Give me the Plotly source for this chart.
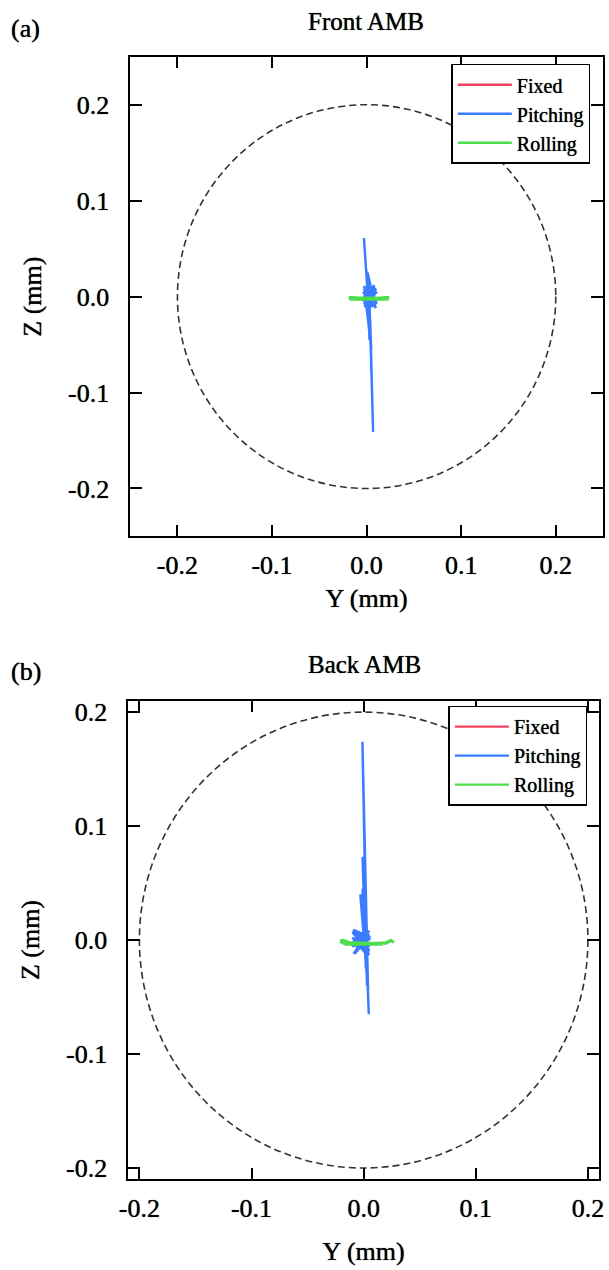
import plotly.graph_objects as go

# ---- Front AMB orbit data (mm) ----
front_fixed_y = [0.000, 0.002, -0.001, 0.001, 0.000]
front_fixed_z = [0.000, -0.001, 0.001, -0.002, 0.000]

front_pitch_y = [0.002, -0.003, 0.010, -0.002, 0.009, -0.003, 0.010, -0.001, 0.008, -0.003,
                 0.010, 0.000, 0.007, -0.002, 0.009, 0.001, 0.004, -0.001, 0.005, 0.000,
                 -0.0028, 0.002, 0.003, 0.002, 0.005, 0.003, 0.0069, 0.004, 0.002, 0.005,
                 -0.002, 0.009, -0.003, 0.010, 0.000, 0.008, -0.002, 0.010, 0.001, 0.006,
                 -0.001, 0.008, 0.002, 0.005, 0.003, -0.003, 0.010, -0.002, 0.009, 0.000,
                 0.010, -0.003, 0.008, -0.001, 0.009, 0.001, 0.007, 0.003]
front_pitch_z = [0.000, 0.008, -0.006, -0.010, 0.009, 0.004, -0.012, 0.010, 0.002, -0.008,
                 0.006, -0.012, 0.010, 0.000, -0.009, 0.025, -0.005, 0.032, -0.008, 0.020,
                 0.061, -0.010, -0.045, 0.005, -0.070, -0.005, -0.141, -0.030, 0.008, -0.055,
                 0.006, -0.010, 0.011, -0.004, -0.012, 0.012, -0.006, 0.004, 0.009, -0.011,
                 0.003, -0.003, 0.006, -0.006, 0.000, 0.002, 0.008, -0.011, -0.002, 0.010,
                 -0.008, -0.004, 0.007, -0.012, 0.003, 0.011, -0.010, 0.000]

front_roll_y = [-0.019, 0.024, -0.018, 0.023, -0.015, 0.022, -0.019, 0.024, -0.012, 0.020,
                -0.017, 0.023, -0.008, 0.015, 0.000]
front_roll_z = [-0.001, -0.002, -0.003, -0.001, -0.002, -0.003, -0.002, -0.001, -0.003, -0.002,
                -0.001, -0.003, -0.002, -0.002, -0.002]

# ---- Back AMB orbit data (mm) ----
back_fixed_y = [0.000, -0.002, 0.001, -0.001, 0.000]
back_fixed_z = [0.000, 0.001, -0.002, -0.001, 0.000]

back_pitch_y = [0.000, -0.009, 0.005, -0.010, 0.004, -0.008, 0.005, -0.009, 0.003, -0.010,
                0.005, -0.006, 0.004, -0.002, 0.002, -0.001, 0.003, -0.003, 0.004, -0.0011,
                0.002, 0.003, 0.000, 0.0046, 0.001, 0.002, -0.001, 0.003, -0.009, 0.005,
                -0.010, 0.004, -0.008, 0.005, -0.007, 0.002, -0.003, -0.010, 0.005, -0.009,
                0.004, -0.010, 0.005, -0.008, 0.003, -0.006, 0.000]
back_pitch_z = [0.000, 0.006, -0.010, -0.004, 0.008, -0.012, 0.003, 0.009, -0.013, 0.002,
                -0.006, 0.008, -0.011, 0.030, -0.020, 0.073, -0.030, 0.040, -0.045, 0.174,
                0.010, -0.040, 0.060, -0.065, 0.020, -0.025, 0.045, -0.010, 0.007, -0.009,
                -0.002, 0.006, -0.011, 0.001, 0.005, -0.008, 0.002, -0.006, 0.008, -0.012,
                0.004, 0.007, -0.013, 0.000, 0.009, -0.010, 0.000]

back_roll_y = [-0.021, -0.019, -0.015, 0.020, 0.024, 0.027, 0.024, 0.021, -0.016, -0.020,
               -0.018, -0.010, 0.016, 0.022, 0.018, -0.012, -0.017, 0.000, 0.010]
back_roll_z = [-0.001, 0.000, -0.002, -0.003, -0.001, -0.002, 0.000, -0.002, -0.004, -0.002,
               0.000, -0.003, -0.004, -0.001, -0.003, -0.004, -0.002, -0.003, -0.003]

series_names = ["Fixed", "Pitching", "Rolling"]
series_colors = ["#f0405e", "#3a7bff", "#4cdc4c"]

tick_values = [-0.2, -0.1, 0.0, 0.1, 0.2]
tick_labels = ["-0.2", "-0.1", "0.0", "0.1", "0.2"]

FONT = "Liberation Serif"
SHADOW = "0px 0px 0.8px rgba(0,0,0,0.9)"
W, H = 609, 1270


def font(size):
    return dict(family=FONT, size=size, color="black", shadow=SHADOW)


fig = go.Figure()

panels = [
    ("x", "y", "legend", [(front_fixed_y, front_fixed_z), (front_pitch_y, front_pitch_z), (front_roll_y, front_roll_z)]),
    ("x2", "y2", "legend2", [(back_fixed_y, back_fixed_z), (back_pitch_y, back_pitch_z), (back_roll_y, back_roll_z)]),
]
for xa, ya, leg, data in panels:
    for name, color, (yy, zz) in zip(series_names, series_colors, data):
        fig.add_trace(go.Scatter(
            x=yy, y=zz, mode="lines", name=name,
            line=dict(color=color, width=2.4),
            xaxis=xa, yaxis=ya, legend=leg,
        ))

axis_common = dict(
    showgrid=False, zeroline=False, showline=True, linecolor="black", linewidth=1.5,
    mirror="ticks", ticks="inside", ticklen=12, tickwidth=1.5, tickcolor="black",
    tickmode="array", tickvals=tick_values, ticktext=tick_labels,
    tickfont=font(26),
    title_font=font(26),
)
xaxis_common = dict(axis_common, ticklabelstandoff=5)
yaxis_common = dict(axis_common, ticklabelstandoff=14)

legend_common = dict(xanchor="right", yanchor="top",
                     bgcolor="white", bordercolor="black", borderwidth=1.5,
                     font=font(20), itemwidth=54, tracegroupgap=0)

fig.update_layout(
    width=W, height=H,
    margin=dict(l=0, r=0, t=0, b=0),
    paper_bgcolor="white", plot_bgcolor="white",
    showlegend=True,
    xaxis=dict(xaxis_common, domain=[124 / W, 608 / W], range=[-0.25, 0.25],
               title=dict(text="Y (mm)", standoff=9), anchor="y"),
    yaxis=dict(yaxis_common, domain=[1 - 537 / H, 1 - 55 / H], range=[-0.25, 0.25],
               title=dict(text="Z (mm)", standoff=19), anchor="x"),
    xaxis2=dict(xaxis_common, domain=[122 / W, 604 / W], range=[-0.21, 0.21],
                title=dict(text="Y (mm)", standoff=19), anchor="y2"),
    yaxis2=dict(yaxis_common, domain=[1 - 1183 / H, 1 - 702 / H], range=[-0.21, 0.21],
                title=dict(text="Z (mm)", standoff=19), anchor="x2"),
    legend=dict(legend_common, x=595 / W, y=1 - 62 / H),
    legend2=dict(legend_common, x=592 / W, y=1 - 707 / H),
)

# Bearing clearance circle, radius 0.2 mm
for xr, yr in [("x", "y"), ("x2", "y2")]:
    fig.add_shape(type="circle", xref=xr, yref=yr, x0=-0.2, x1=0.2, y0=-0.2, y1=0.2,
                  line=dict(color="#2b3540", width=1.6, dash="7px,4px"), layer="below")

# Panel titles and labels
for text, x, y in [("Front AMB", 365, 20), ("Back AMB", 364, 666)]:
    fig.add_annotation(text=text, xref="paper", yref="paper", x=x / W, y=1 - y / H,
                       showarrow=False, font=font(25),
                       xanchor="center", yanchor="middle")
for text, y in [("(a)", 27), ("(b)", 673)]:
    fig.add_annotation(text=text, xref="paper", yref="paper", x=0, y=1 - y / H,
                       showarrow=False, font=font(26),
                       xanchor="left", yanchor="middle")

fig.write_html("out.html")
